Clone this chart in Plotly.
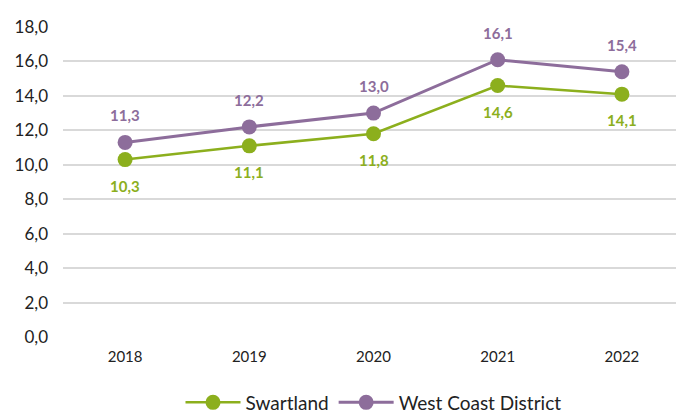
import plotly.graph_objects as go

years = ["2018", "2019", "2020", "2021", "2022"]
swartland = [10.3, 11.1, 11.8, 14.6, 14.1]
west_coast = [11.3, 12.2, 13.0, 16.1, 15.4]
y_ticks = [0, 2, 4, 6, 8, 10, 12, 14, 16, 18]

green = "#8CAF1D"
purple = "#8D6D9B"
font = "Lato, 'Open Sans', sans-serif"

def fmt(v):
    return f"{v:.1f}".replace(".", ",")

fig = go.Figure()
fig.add_trace(go.Scatter(
    x=years, y=swartland, name="Swartland", mode="lines+markers",
    line=dict(color=green, width=2.5), marker=dict(size=15, color=green),
))
fig.add_trace(go.Scatter(
    x=years, y=west_coast, name="West Coast District", mode="lines+markers",
    line=dict(color=purple, width=3), marker=dict(size=15, color=purple),
))

for i, v in enumerate(swartland):
    fig.add_annotation(x=i, y=v, xref="x", yref="y", text=fmt(v), showarrow=False,
                       yshift=-26,
                       font=dict(color=green, size=15, family=font, weight="bold"))
for i, v in enumerate(west_coast):
    fig.add_annotation(x=i, y=v, xref="x", yref="y", text=fmt(v), showarrow=False,
                       yshift=27,
                       font=dict(color=purple, size=15, family=font, weight="bold"))

fig.update_layout(
    width=676, height=410,
    margin=dict(l=55, r=0, t=19, b=81, autoexpand=False),
    plot_bgcolor="white", paper_bgcolor="white",
    font=dict(family=font, color="#222222"),
    showlegend=True,
    legend=dict(orientation="h", x=0.5, xanchor="center", y=-0.15, yanchor="top",
                itemwidth=55,
                font=dict(size=19, family=font, color="#222222")),
    xaxis=dict(type="category", range=[-0.5, 4.5], showgrid=False, zeroline=False,
               showline=False, ticks="", tickfont=dict(size=15, family=font),
               ticklabelstandoff=9),
    yaxis=dict(range=[0, 18], tickvals=y_ticks, ticktext=[fmt(v) for v in y_ticks],
               showgrid=True, gridcolor="#D9D9D9", gridwidth=2, zeroline=False,
               showline=False, ticks="", tickfont=dict(size=17, family=font),
               ticklabelstandoff=14),
)

fig.write_html("out.html")
